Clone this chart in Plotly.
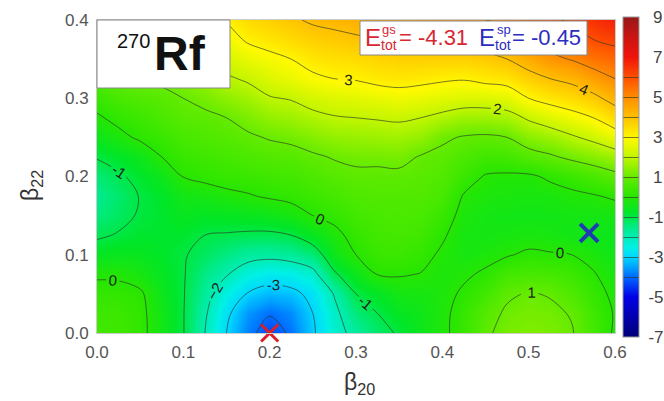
import plotly.graph_objects as go

# ---------------- data ----------------
beta20 = [round(0.025 * i, 3) for i in range(25)]      # 0.000 ... 0.600
beta22 = [round(0.025 * j, 3) for j in range(17)]      # 0.000 ... 0.400

# energy (MeV) on each beta22 row, columns follow beta20
row_000 = [0.45, 0.40, 0.20, -0.40, -0.97, -2.00, -3.00, -3.80, -4.31, -3.90, -3.10, -2.30, -1.75, -1.30, -0.90, -0.50, -0.15, 0.30, 0.90, 1.20, 1.30, 1.25, 1.05, 0.50, -0.10]
row_025 = [0.40, 0.35, 0.18, -0.42, -0.97, -1.90, -2.85, -3.60, -3.95, -3.70, -3.00, -2.20, -1.40, -1.00, -0.65, -0.45, -0.15, 0.25, 0.75, 1.10, 1.20, 1.15, 0.95, 0.40, -0.05]
row_050 = [0.25, 0.20, 0.10, -0.50, -0.96, -1.70, -2.50, -3.05, -3.30, -3.20, -2.80, -1.95, -1.00, -0.70, -0.35, -0.30, -0.20, 0.10, 0.45, 0.90, 1.05, 0.95, 0.65, 0.25, -0.15]
row_075 = [-0.10, -0.10, -0.30, -0.65, -0.95, -1.50, -1.95, -2.40, -2.65, -2.55, -2.25, -1.10, -0.50, 0.02, 0.05, -0.02, -0.20, -0.10, 0.10, 0.45, 0.55, 0.50, 0.35, 0.05, -0.30]
row_100 = [-0.65, -0.55, -0.60, -0.75, -0.95, -1.20, -1.50, -1.75, -1.80, -1.70, -1.40, -0.50, 0.00, 0.30, 0.35, 0.20, -0.10, -0.30, -0.20, -0.05, 0.10, 0.05, 0.00, -0.20, -0.45]
row_125 = [-1.10, -0.95, -0.80, -0.80, -0.80, -1.00, -1.05, -1.10, -1.12, -1.00, -0.60, -0.20, 0.25, 0.45, 0.50, 0.40, 0.08, -0.30, -0.35, -0.30, -0.25, -0.30, -0.40, -0.45, -0.55]
row_150 = [-1.45, -1.20, -0.93, -0.80, -0.60, -0.70, -0.65, -0.60, -0.50, -0.35, 0.00, 0.20, 0.45, 0.55, 0.60, 0.55, 0.30, -0.20, -0.35, -0.40, -0.40, -0.40, -0.35, -0.35, -0.35]
row_175 = [-1.60, -1.30, -0.97, -0.75, -0.40, -0.30, -0.15, -0.05, 0.08, 0.20, 0.35, 0.50, 0.65, 0.70, 0.70, 0.70, 0.55, -0.05, -0.20, -0.25, -0.30, -0.25, -0.15, -0.05, 0.10]
row_200 = [-1.40, -1.10, -0.80, -0.50, 0.02, 0.15, 0.25, 0.30, 0.40, 0.45, 0.60, 0.75, 0.85, 0.85, 0.85, 0.80, 0.70, 0.30, -0.05, -0.10, -0.10, 0.10, 0.30, 0.55, 0.80]
row_225 = [-0.95, -0.75, -0.50, 0.00, 0.30, 0.40, 0.50, 0.60, 0.70, 0.75, 0.90, 1.05, 1.15, 1.15, 1.20, 0.95, 0.85, 0.60, 0.40, 0.45, 0.70, 0.90, 1.15, 1.35, 1.60]
row_250 = [-0.50, -0.20, 0.12, 0.30, 0.55, 0.65, 0.75, 0.90, 1.05, 1.15, 1.35, 1.50, 1.55, 1.60, 1.65, 1.50, 1.10, 0.95, 0.90, 1.00, 1.40, 1.60, 1.90, 2.20, 2.60]
row_275 = [-0.10, 0.20, 0.35, 0.60, 0.80, 0.85, 1.00, 1.25, 1.50, 1.60, 1.80, 1.95, 2.00, 2.05, 2.10, 2.00, 1.80, 1.60, 1.60, 1.70, 2.10, 2.40, 2.70, 3.00, 3.50]
row_300 = [0.30, 0.55, 0.70, 0.80, 1.00, 1.20, 1.45, 1.65, 1.95, 2.05, 2.30, 2.40, 2.50, 2.60, 2.70, 2.60, 2.50, 2.40, 2.40, 2.50, 3.00, 3.30, 3.50, 3.80, 4.30]
row_325 = [0.75, 0.95, 1.05, 1.15, 1.35, 1.55, 1.90, 2.10, 2.40, 2.60, 2.85, 3.00, 3.05, 3.20, 3.25, 3.20, 3.10, 3.05, 3.20, 3.30, 3.70, 4.00, 4.20, 4.60, 5.00]
row_350 = [1.10, 1.30, 1.45, 1.60, 1.70, 1.95, 2.30, 2.60, 2.80, 3.00, 3.30, 3.40, 3.50, 3.60, 3.70, 3.70, 3.70, 3.70, 3.80, 4.00, 4.40, 4.80, 5.05, 5.40, 5.60]
row_375 = [1.50, 1.70, 1.85, 2.00, 2.10, 2.35, 2.70, 3.10, 3.30, 3.50, 3.70, 3.80, 3.90, 4.00, 4.10, 4.20, 4.30, 4.30, 4.40, 4.60, 5.10, 5.40, 5.60, 6.00, 6.20]
row_400 = [1.90, 2.10, 2.25, 2.40, 2.50, 2.75, 3.05, 3.50, 3.70, 3.90, 4.10, 4.20, 4.30, 4.35, 4.45, 4.60, 4.80, 4.90, 5.00, 5.20, 5.60, 5.90, 6.10, 6.50, 6.80]

energy = [row_000, row_025, row_050, row_075, row_100, row_125, row_150, row_175,
          row_200, row_225, row_250, row_275, row_300, row_325, row_350, row_375, row_400]

gs_beta20, gs_beta22, E_gs = 0.20, 0.0, -4.31     # ground state (red X)
sp_beta20, sp_beta22, E_sp = 0.57, 0.128, -0.45   # saddle point (blue X)

cbar_ticks = [-7, -5, -3, -1, 1, 3, 5, 7, 9]
x_ticks = [0.0, 0.1, 0.2, 0.3, 0.4, 0.5, 0.6]
y_ticks = [0.0, 0.1, 0.2, 0.3, 0.4]

# ---------------- figure ----------------
zmin, zmax = -7, 9
cscale = [
    [0.000, "rgb(0,0,120)"],
    [0.125, "rgb(0,0,230)"],
    [0.1875, "rgb(0,105,255)"],
    [0.220, "rgb(0,165,255)"],
    [0.250, "rgb(0,215,255)"],
    [0.280, "rgb(0,240,230)"],
    [0.340, "rgb(0,235,140)"],
    [0.390, "rgb(0,230,40)"],
    [0.440, "rgb(40,230,0)"],
    [0.500, "rgb(100,235,0)"],
    [0.560, "rgb(190,245,0)"],
    [0.620, "rgb(255,250,0)"],
    [0.690, "rgb(255,190,0)"],
    [0.750, "rgb(255,140,0)"],
    [0.810, "rgb(255,80,0)"],
    [0.875, "rgb(240,20,10)"],
    [0.940, "rgb(200,20,20)"],
    [1.000, "rgb(150,25,25)"],
]

FONT = "Liberation Sans, Arial, Helvetica, sans-serif"

fig = go.Figure()
fig.add_trace(go.Contour(
    x=beta20, y=beta22, z=energy,
    zmin=zmin, zmax=zmax, colorscale=cscale,
    contours=dict(start=-4, end=6, size=1, coloring="heatmap",
                  showlabels=True,
                  labelfont=dict(size=15, color="#1e1e1e", family=FONT)),
    line=dict(color="rgba(45,55,40,0.65)", width=1, smoothing=1.0),
    colorbar=dict(
        x=(623 - 97) / 518, xanchor="left", xpad=0, ypad=0,
        y=(333 - 177) / 313, yanchor="middle",
        thickness=16, lenmode="pixels", len=320,
        tickvals=cbar_ticks,
        ticktext=[("\u00a0" + str(t)) if t > 0 else str(t) for t in cbar_ticks],
        ticks="outside", ticklen=6, tickcolor="rgba(0,0,0,0)",
        tickfont=dict(size=17, color="#444", family=FONT),
        outlinewidth=1, outlinecolor="#999",
    ),
    hoverinfo="skip",
))

fig.add_trace(go.Scatter(
    x=[gs_beta20], y=[gs_beta22], mode="markers",
    marker=dict(symbol="x-thin", size=17, line=dict(width=3, color="rgb(220,30,40)")),
    cliponaxis=False, showlegend=False, hoverinfo="skip"))
fig.add_trace(go.Scatter(
    x=[sp_beta20], y=[sp_beta22], mode="markers",
    marker=dict(symbol="x-thin", size=18, line=dict(width=4, color="rgb(30,60,180)")),
    cliponaxis=False, showlegend=False, hoverinfo="skip"))

def px_x(px):
    return (px - 97) / 518

def px_y(py):
    return (333 - py) / 313

# boxes
fig.add_shape(type="rect", xref="paper", yref="paper",
              x0=px_x(97), x1=px_x(230), y0=px_y(88), y1=px_y(20),
              fillcolor="white", line=dict(color="#888", width=1))
fig.add_shape(type="rect", xref="paper", yref="paper",
              x0=px_x(360), x1=px_x(587), y0=px_y(55), y1=px_y(21),
              fillcolor="white", line=dict(color="#888", width=1))

RED = "rgb(215,40,50)"
BLUE = "rgb(45,45,190)"
ann = []
def add_text(text, px, py, size, color, bold=False, anchor="left", angle=0):
    ann.append(dict(text=("<b>%s</b>" % text) if bold else text,
                    x=px_x(px), y=px_y(py), xref="paper", yref="paper",
                    xanchor=anchor, yanchor="middle", showarrow=False,
                    textangle=angle, borderpad=0,
                    font=dict(size=size, color=color, family=FONT)))

add_text("270", 116, 41, 20, "#111")
add_text("Rf", 153, 54, 48, "#111", bold=True)

add_text("E", 364, 37, 24, RED)
add_text("gs", 381, 30, 13, RED)
add_text("tot", 380, 45, 14, RED)
add_text("= %.2f" % E_gs, 398, 38, 22, RED)

add_text("E", 478, 37, 24, BLUE)
add_text("sp", 496, 30, 13, BLUE)
add_text("tot", 494, 45, 14, BLUE)
add_text("= %.2f" % E_sp, 511, 38, 22, BLUE)

add_text("β<sub>20</sub>", 359, 383, 23, "#333", anchor="center")
add_text("β<sub>22</sub>", 31, 186, 23, "#333", anchor="center", angle=-90)

fig.update_layout(
    width=664, height=401,
    margin=dict(l=97, r=49, t=20, b=68, autoexpand=False),
    paper_bgcolor="white", plot_bgcolor="white",
    font=dict(family=FONT),
    showlegend=False,
    annotations=ann,
    xaxis=dict(range=[0, 0.6], tickvals=x_ticks, tickformat=".1f",
               showgrid=False, zeroline=False, showline=True, mirror=True,
               linecolor="#cccccc", linewidth=1,
               ticks="outside", ticklen=4, tickcolor="rgba(0,0,0,0)",
               tickfont=dict(size=17, color="#555", family=FONT)),
    yaxis=dict(range=[0, 0.4], tickvals=y_ticks, tickformat=".1f",
               showgrid=False, zeroline=False, showline=True, mirror=True,
               linecolor="#cccccc", linewidth=1,
               ticks="outside", ticklen=4, tickcolor="rgba(0,0,0,0)",
               tickfont=dict(size=17, color="#555", family=FONT)),
)

fig.write_html("out.html")
